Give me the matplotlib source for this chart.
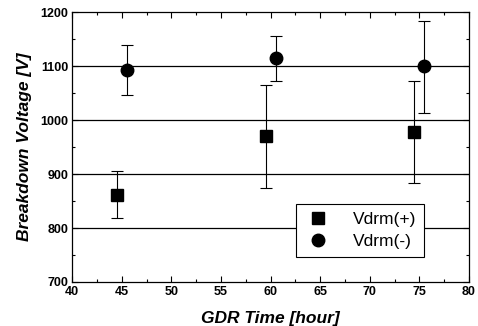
import matplotlib.pyplot as plt
from matplotlib.ticker import MultipleLocator

# Vdrm(+) series
x_pos = [44.5, 59.5, 74.5]
y_pos = [862, 970, 978]
err_lo_pos = [44, 95, 94]
err_hi_pos = [44, 95, 94]

# Vdrm(-) series
x_neg = [45.5, 60.5, 75.5]
y_neg = [1093, 1115, 1100]
err_lo_neg = [46, 42, 86]
err_hi_neg = [46, 42, 84]

grid_levels = [800, 900, 1000, 1100]

plt.rcParams['font.family'] = ['Liberation Sans', 'DejaVu Sans']

fig = plt.figure(figsize=(4.78, 3.26), dpi=100)
ax = fig.add_axes([0.151, 0.135, 0.830, 0.827])

for g in grid_levels:
    ax.axhline(g, color='black', lw=0.9, zorder=1)

ax.errorbar(x_pos, y_pos, yerr=[err_lo_pos, err_hi_pos], fmt='s', color='black',
            ms=8, elinewidth=0.8, capsize=4, capthick=0.8, label='Vdrm(+)', zorder=3)
ax.errorbar(x_neg, y_neg, yerr=[err_lo_neg, err_hi_neg], fmt='o', color='black',
            ms=9, elinewidth=0.8, capsize=4, capthick=0.8, label='Vdrm(-)', zorder=3)

ax.set_xlim(40, 80)
ax.set_ylim(700, 1200)
ax.xaxis.set_major_locator(MultipleLocator(5))
ax.xaxis.set_minor_locator(MultipleLocator(2.5))
ax.yaxis.set_major_locator(MultipleLocator(100))
ax.yaxis.set_minor_locator(MultipleLocator(50))
ax.tick_params(which='both', direction='in', top=True, right=True, width=0.8)
ax.tick_params(which='major', length=4, labelsize=9, pad=3)
ax.tick_params(which='minor', length=2)
for lbl in ax.get_xticklabels() + ax.get_yticklabels():
    lbl.set_fontweight('bold')
for s in ax.spines.values():
    s.set_linewidth(0.9)

ax.set_xlabel('GDR Time [hour]', fontsize=12.5, fontweight='bold', style='italic', labelpad=9)
ax.set_ylabel('Breakdown Voltage [V]', fontsize=12.5, fontweight='bold', style='italic', labelpad=6)

handles, labels = ax.get_legend_handles_labels()
handles = [h[0] for h in handles]
leg = ax.legend(handles, labels, loc='lower right', bbox_to_anchor=(0.887, 0.093),
                borderaxespad=0, fontsize=12.5, frameon=True, fancybox=False,
                edgecolor='black', framealpha=1, handletextpad=1.2, borderpad=0.45,
                labelspacing=0.4, handlelength=1.6)
leg.get_frame().set_linewidth(0.8)

fig.savefig('out.png', dpi=100)
